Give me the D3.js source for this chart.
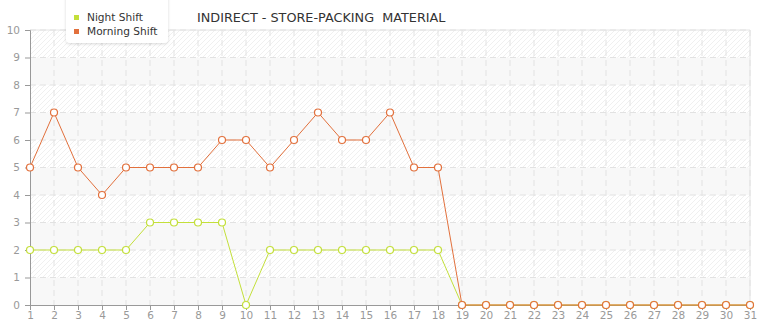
<!DOCTYPE html>
<html><head><meta charset="utf-8">
<script src="https://cdn.jsdelivr.net/npm/d3@7"></script>
<style>body{margin:0;background:#fff}svg{display:block;font-family:"DejaVu Sans",Verdana,sans-serif}</style>
</head><body><svg id="c" width="765" height="320"></svg>
<script>
const days = d3.range(1, 32);
const nightShift = [2,2,2,2,2,3,3,3,3,0,2,2,2,2,2,2,2,2,0,0,0,0,0,0,0,0,0,0,0,0,0];
const morningShift = [5,7,5,4,5,5,5,5,6,6,5,6,7,6,6,7,5,5,0,0,0,0,0,0,0,0,0,0,0,0,0];
const yTicks = d3.range(0, 11);
const seriesNames = ["Night Shift", "Morning Shift"];
const colors = ["#c3df3a", "#e2703c"];
const title = "INDIRECT - STORE-PACKING\u00a0 MATERIAL";

const svg = d3.select("#c");
const L = 30, R = 750, T = 30, B = 305;
const x = d3.scaleLinear().domain([1, 31]).range([L, R]);
const y = d3.scaleLinear().domain([0, 10]).range([B, T]);

const defs = svg.append("defs");
const pat = defs.append("pattern").attr("id","hatch").attr("patternUnits","userSpaceOnUse")
  .attr("width",5).attr("height",5);
pat.append("rect").attr("width",5).attr("height",5).attr("fill","#fff");
pat.append("path").attr("d","M-1,1 l2,-2 M0,5 l5,-5 M4,6 l2,-2").attr("stroke","#f0f0f0").attr("stroke-width",1);

// bands
for (let i = 0; i < 10; i++) {
  svg.append("rect").attr("x", L).attr("width", R - L)
    .attr("y", y(i + 1)).attr("height", y(i) - y(i + 1))
    .attr("fill", i % 2 === 1 ? "url(#hatch)" : "#f8f8f8");
}
svg.append("path").attr("d", `M${L},${T}H${R}V${B}`).attr("fill","none").attr("stroke","#e4e4e4");

// grid
svg.append("g").selectAll("line").data(days.slice(1)).join("line")
  .attr("x1", d => x(d)).attr("x2", d => x(d)).attr("y1", T).attr("y2", B)
  .attr("stroke", "#e2e2e2").attr("stroke-dasharray", "6,4");
svg.append("g").selectAll("line").data(yTicks.slice(1)).join("line")
  .attr("x1", L).attr("x2", R).attr("y1", d => y(d)).attr("y2", d => y(d))
  .attr("stroke", "#e2e2e2").attr("stroke-dasharray", "6,4");

// axes
const yAxis = svg.append("g").attr("transform", `translate(${L},0)`)
  .call(d3.axisLeft(y).tickValues(yTicks).tickSize(5).tickPadding(5).tickFormat(d3.format("d")));
const xAxis = svg.append("g").attr("transform", `translate(0,${B})`)
  .call(d3.axisBottom(x).tickValues(days).tickSize(5).tickPadding(2).tickFormat(d3.format("d")));
[yAxis, xAxis].forEach(a => {
  a.selectAll("path,line").attr("stroke", "#999");
  a.selectAll("text").attr("fill", "#999").style("font-size", "10.5px").style("font-family", '"DejaVu Sans",Verdana,sans-serif');
});

// lines
const seriesData = [nightShift, morningShift];
const line = d3.line().x((d, i) => x(days[i])).y(d => y(d));
seriesData.forEach((s, k) => {
  svg.append("path").datum(s).attr("d", line).attr("fill", "none")
    .attr("stroke", colors[k]).attr("stroke-width", 1);
  svg.append("g").selectAll("circle").data(s).join("circle")
    .attr("cx", (d, i) => x(days[i])).attr("cy", d => y(d)).attr("r", 3.5)
    .attr("fill", "#fff").attr("stroke", colors[k]).attr("stroke-width", 1.2);
});

// legend
const lg = svg.append("g");
const f = defs.append("filter").attr("id","sh").attr("x","-20%").attr("y","-20%").attr("width","140%").attr("height","160%");
f.append("feDropShadow").attr("dx",0).attr("dy",1).attr("stdDeviation",1.5).attr("flood-color","#000").attr("flood-opacity",0.15);
lg.append("rect").attr("x", 66).attr("y", -6).attr("width", 102).attr("height", 49).attr("rx", 4)
  .attr("fill", "#fff").attr("filter", "url(#sh)");
seriesNames.forEach((n, k) => {
  lg.append("rect").attr("x", 74).attr("y", 15 + k * 14).attr("width", 5).attr("height", 5).attr("fill", colors[k]);
  lg.append("text").attr("x", 87).attr("y", 21 + k * 14).text(n).attr("fill", "#333").style("font-size", "10.6px");
});

// title
svg.append("text").attr("x", 197).attr("y", 22).text(title).attr("fill", "#333").style("font-size", "12.8px");
</script></body></html>
